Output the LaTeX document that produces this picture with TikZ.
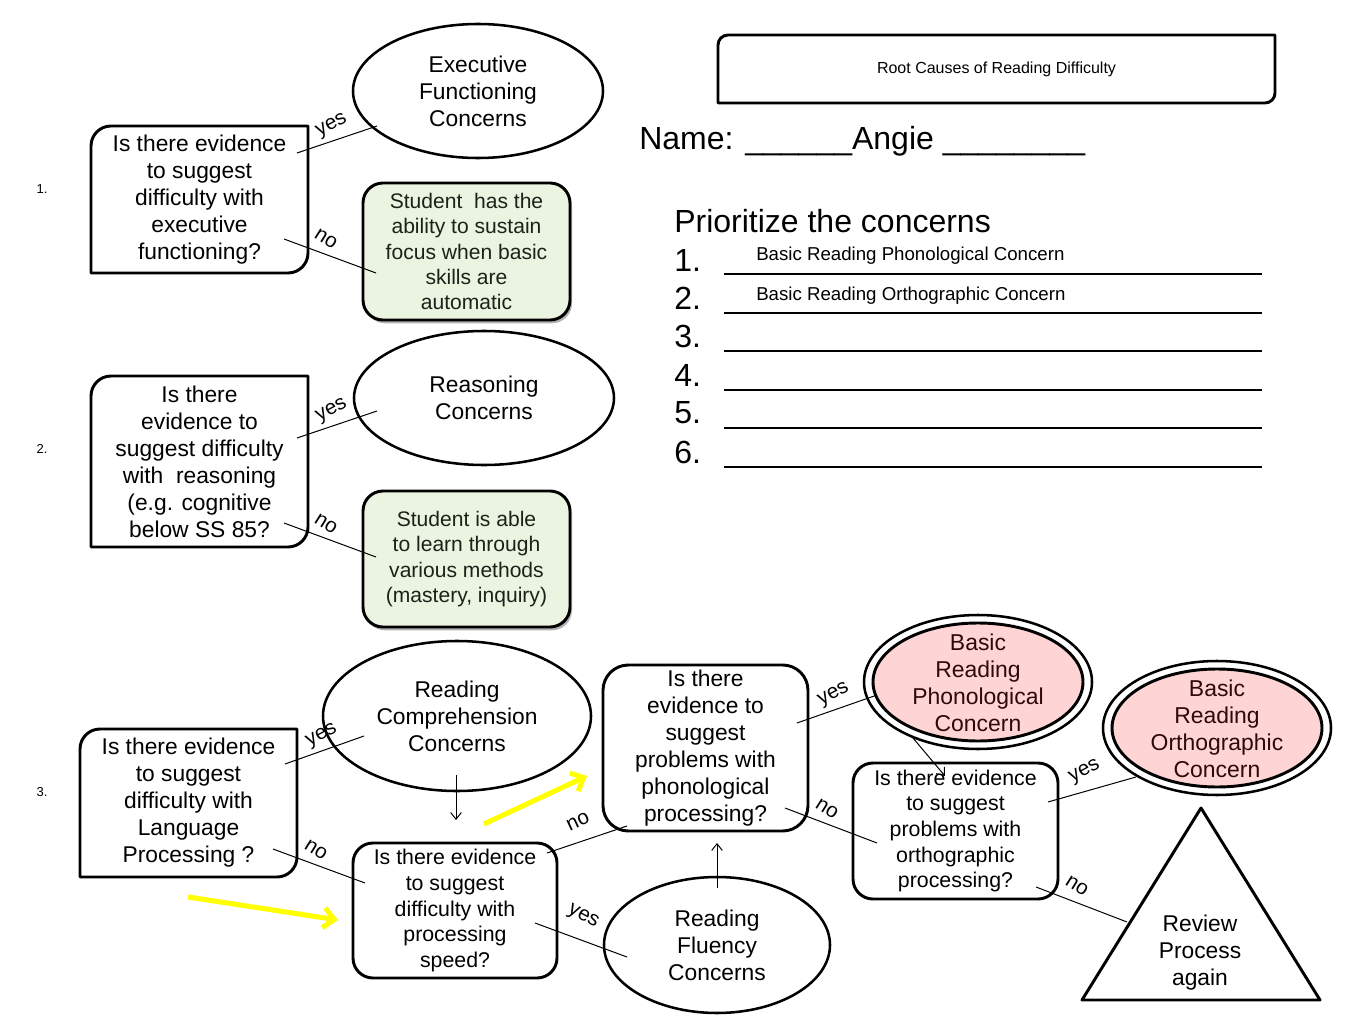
\documentclass[tikz,border=0pt]{standalone}
\usepackage{fontspec}
\setmainfont{Liberation Sans}
\usetikzlibrary{shapes.geometric,arrows.meta,shadows}
\definecolor{greenfill}{RGB}{235,244,224}
\definecolor{pinkfill}{RGB}{255,212,212}
\definecolor{pinktext}{RGB}{45,10,10}
\definecolor{greentext}{RGB}{25,35,25}
\definecolor{hiyellow}{RGB}{255,255,0}
\newcommand\diagcorners[2]{%
  \draw[boxline] (#1.north east) -- ([yshift=#2]#1.south east)
    arc[start angle=0,end angle=-90,radius=#2] -- (#1.south west)
    -- ([yshift=-#2]#1.north west) arc[start angle=180,end angle=90,radius=#2] -- cycle;}
\tikzset{
  boxline/.style={line width=2.2pt, line join=round},
  ellline/.style={ellipse, draw, line width=1.9pt, inner sep=0pt},
  qf/.style={font=\fontsize{17.1}{20.25}\selectfont, align=center},
  qsf/.style={font=\fontsize{16}{19.2}\selectfont, align=center},
  gf/.style={font=\fontsize{15.8}{19.1}\selectfont, align=center, text=greentext},
  pf/.style={font=\fontsize{17.2}{20.25}\selectfont, align=center, text=pinktext, inner sep=0pt},
  conn/.style={line width=0.75pt},
  thinarrow/.style={line width=0.75pt, -{Straight Barb[length=5pt,width=8pt]}},
  yarrow/.style={line width=3.8pt, hiyellow, -{Straight Barb[length=8pt,width=15pt]}},
  lbl/.style={font=\fontsize{15.5}{18}\selectfont, inner sep=0pt},
  numlbl/.style={font=\fontsize{9.75}{12}\selectfont, inner sep=0pt},
  big/.style={font=\fontsize{24}{28}\selectfont, inner sep=0pt},
  qbox/.style 2 args={rectangle, inner sep=0pt, outer sep=0pt, minimum width=#1*0.75pt, minimum height=#2*0.75pt},
  rbox/.style={draw, boxline, rounded corners=15pt},
  gbox/.style={rbox, fill=greenfill, drop shadow={shadow xshift=1.5pt,shadow yshift=-2.5pt,fill=black!50,opacity=0.6}}
}
\begin{document}
\begin{tikzpicture}[x=0.75pt,y=-0.75pt]
\fill[white] (0,0) rectangle (1365,1024);
\useasboundingbox (0,0) rectangle (1365,1024);

% ---------- section numbers
\node[numlbl] (s1) at (42,189) {1.};
\node[numlbl] (s2) at (42,449) {2.};
\node[numlbl] (s3) at (42,792) {3.};

% ---------- section 1
\node[qbox={217}{147}, qf] (q1) at (199.5,199.5) {Is there evidence\\to suggest\\difficulty with\\executive\\functioning?};
\diagcorners{q1}{15pt}
\node[ellline, minimum width=250*0.75pt, minimum height=134*0.75pt, qf] (exec) at (478,91) {Executive\\Functioning\\Concerns};
\node[qbox={207}{137}, gbox, gf] (g1) at (466.5,251.5) {Student~ has the\\ability to sustain\\focus when basic\\skills are\\automatic};
\coordinate (q1ya) at (297,153); \coordinate (q1yb) at (377,126);
\coordinate (q1na) at (284,239); \coordinate (q1nb) at (376,273);
\draw[conn] (q1ya) -- (q1yb);
\draw[conn] (q1na) -- (q1nb);
\node[lbl, rotate=28] (yes1) at (332,126) {yes};
\node[lbl, rotate=-32] (no1) at (326,239) {no};

% ---------- section 2
\node[qbox={217}{171}, qf] (q2) at (199.5,461.5) {Is there\\evidence to\\suggest difficulty\\with~ reasoning\\(e.g. cognitive\\below SS 85?};
\diagcorners{q2}{15pt}
\node[ellline, minimum width=260*0.75pt, minimum height=134*0.75pt, qf] (reas) at (484,398) {Reasoning\\Concerns};
\node[qbox={207}{136}, gbox, gf] (g2) at (466.5,559) {Student is able\\to learn through\\various methods\\(mastery, inquiry)};
\coordinate (q2ya) at (297,438); \coordinate (q2yb) at (377,411);
\coordinate (q2na) at (284,523); \coordinate (q2nb) at (376,557);
\draw[conn] (q2ya) -- (q2yb);
\draw[conn] (q2na) -- (q2nb);
\node[lbl, rotate=28] (yes2) at (332,411) {yes};
\node[lbl, rotate=-32] (no2) at (326,524) {no};

% ---------- section 3
\node[qbox={217}{148}, qf] (q3) at (188.5,803) {Is there evidence\\to suggest\\difficulty with\\Language\\Processing ?};
\diagcorners{q3}{15pt}
\node[ellline, minimum width=268*0.75pt, minimum height=150*0.75pt, qf] (rc) at (457,716) {Reading\\Comprehension\\Concerns};
\node[qbox={204}{135}, rbox, qsf] (q4) at (455,910.5) {Is there evidence\\to suggest\\difficulty with\\processing\\speed?};
\node[ellline, minimum width=226*0.75pt, minimum height=136*0.75pt, qf] (flu) at (717,945) {Reading\\Fluency\\Concerns};
\node[qbox={205}{166}, draw, boxline, rounded corners=19pt, qf] (q5) at (705.5,748) {Is there\\evidence to\\suggest\\problems with\\phonological\\processing?};
\node[qbox={205}{136}, rbox, qsf] (q6) at (955.5,831) {Is there evidence\\to suggest\\problems with\\orthographic\\processing?};

% pink double ellipses
\node[ellline, fill=white, minimum width=228*0.75pt, minimum height=134*0.75pt] (phonO) at (978,682) {};
\node[ellipse, draw, line width=2.2pt, fill=pinkfill, inner sep=0pt, minimum width=210*0.75pt, minimum height=118*0.75pt] (phon) at (978,682) {};
\node[pf] (phonT) at (978,682.5) {Basic\\Reading\\Phonological\\Concern};
\node[ellline, fill=white, minimum width=228*0.75pt, minimum height=134*0.75pt] (orthO) at (1217,728) {};
\node[ellipse, draw, line width=2.2pt, fill=pinkfill, inner sep=0pt, minimum width=210*0.75pt, minimum height=118*0.75pt] (orth) at (1217,728) {};
\node[pf] (orthT) at (1217,728.5) {Basic\\Reading\\Orthographic\\Concern};

% triangle
\coordinate (triA) at (1201,808);
\coordinate (triB) at (1082,1000);
\coordinate (triC) at (1320,1000);
\draw[boxline] (triA) -- (triB) -- (triC) -- cycle;
\node[qf, inner sep=0pt] (review) at (1200,953) {Review\\Process\\again};

% section 3 connectors
\coordinate (q3ya) at (285,764); \coordinate (q3yb) at (364,736);
\coordinate (q3na) at (273,849); \coordinate (q3nb) at (365,883);
\draw[conn] (q3ya) -- (q3yb);
\draw[conn] (q3na) -- (q3nb);
\node[lbl, rotate=28] (yes3) at (322,736) {yes};
\node[lbl, rotate=-32] (no3) at (316,850) {no};

\coordinate (q4na) at (547,853); \coordinate (q4nb) at (627,826);
\coordinate (q4ya) at (535,923); \coordinate (q4yb) at (627,957);
\draw[conn] (q4na) -- (q4nb);
\draw[conn] (q4ya) -- (q4yb);
\node[lbl, rotate=25] (no4) at (578,822) {no};
\node[lbl, rotate=-28] (yes4) at (583,917) {yes};

\coordinate (q5ya) at (797,723); \coordinate (q5yb) at (877,695);
\coordinate (q5na) at (785,808); \coordinate (q5nb) at (877,843);
\draw[conn] (q5ya) -- (q5yb);
\draw[conn] (q5na) -- (q5nb);
\node[lbl, rotate=28] (yes5) at (834,695) {yes};
\node[lbl, rotate=-32] (no5) at (827,809) {no};

\coordinate (q6ya) at (1048,802); \coordinate (q6yb) at (1136,777);
\coordinate (q6na) at (1036,887); \coordinate (q6nb) at (1127,922);
\draw[conn] (q6ya) -- (q6yb);
\draw[conn] (q6na) -- (q6nb);
\node[lbl, rotate=28] (yes6) at (1085,772) {yes};
\node[lbl, rotate=-32] (no6) at (1077,886) {no};

% thin arrows
\coordinate (rcA) at (456,775); \coordinate (rcB) at (456,820);
\draw[thinarrow] (rcA) -- (rcB);
\coordinate (fluA) at (717,888); \coordinate (fluB) at (717,843);
\draw[thinarrow] (fluA) -- (fluB);
\coordinate (phA) at (913,738); \coordinate (phB) at (945,776);
\draw[thinarrow] (phA) -- (phB);

% yellow arrows
\coordinate (ya1) at (188,897); \coordinate (yb1) at (338,920);
\draw[yarrow] (ya1) -- (yb1);
\coordinate (ya2) at (484,824); \coordinate (yb2) at (587,776);
\draw[yarrow] (ya2) -- (yb2);

% ---------- right header
\node[qbox={557}{68}, font=\fontsize{12}{14}\selectfont] (title) at (996.5,69) {Root Causes of Reading Difficulty};
\diagcorners{title}{7.5pt}

\node[big, anchor=west] (name) at (639,141) {Name: \_\_\_\_\_\_Angie \_\_\_\_\_\_\_\_};
\node[big, anchor=west] (prio) at (674,221) {Prioritize the concerns};

\foreach \i/\yy/\ly in {1/260/274, 2/298/313, 3/336/351, 4/375/390, 5/413/428, 6/452/467}{
  \node[big, anchor=west] (n\i) at (674,\yy) {\i.};
  \coordinate (ul\i a) at (724,\ly);
  \coordinate (ul\i b) at (1262,\ly);
  \draw[line width=1.9pt] (ul\i a) -- (ul\i b);
}
\node[anchor=west, inner sep=0pt, font=\fontsize{14}{16}\selectfont] (c1) at (756,256) {Basic Reading Phonological Concern};
\node[anchor=west, inner sep=0pt, font=\fontsize{14}{16}\selectfont] (c2) at (756,296) {Basic Reading Orthographic Concern};
\end{tikzpicture}
\end{document}
